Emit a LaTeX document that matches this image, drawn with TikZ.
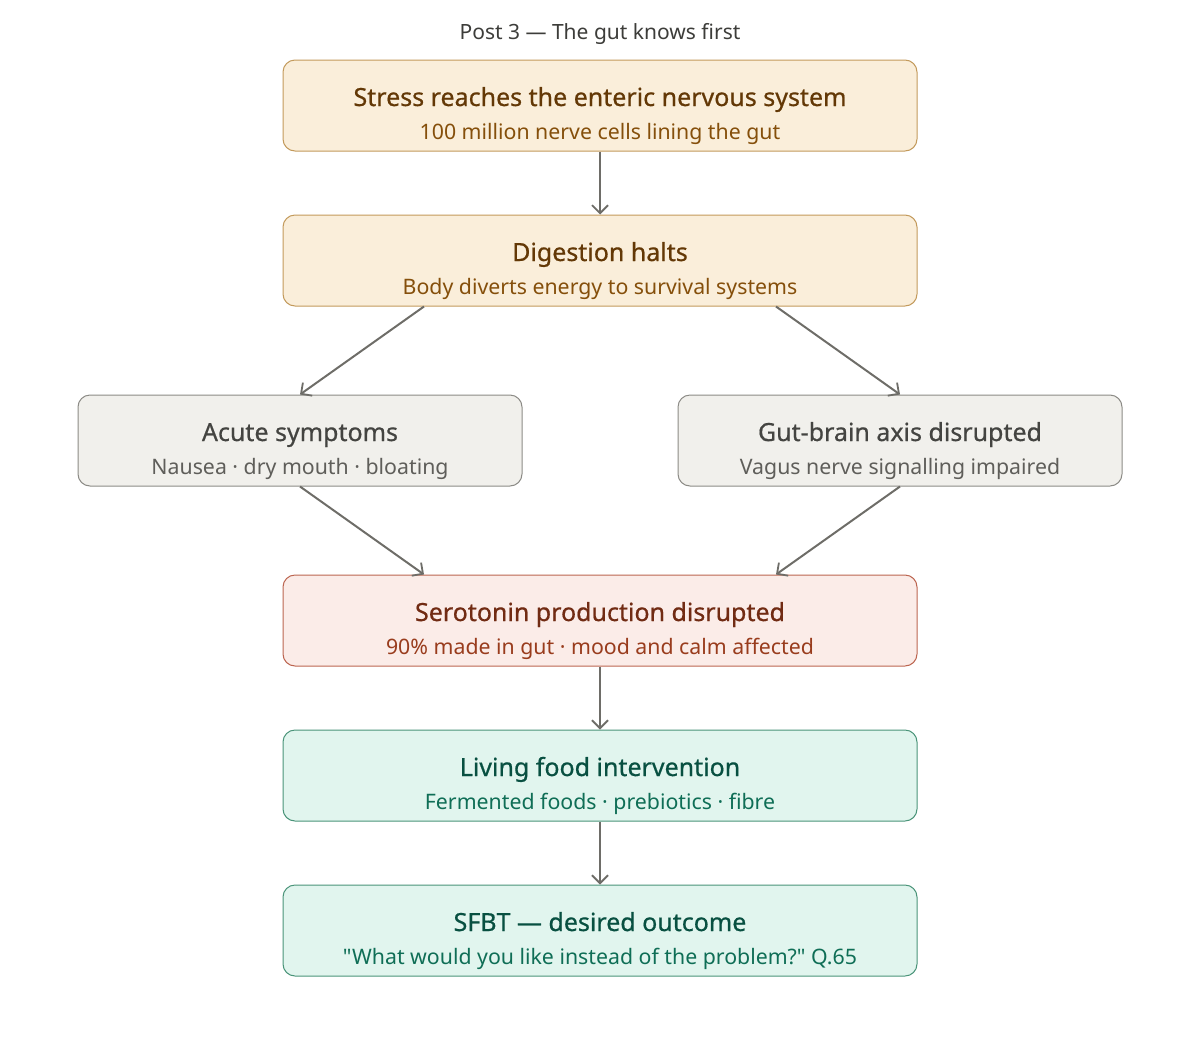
\documentclass[tikz,border=0pt]{standalone}
\usepackage{fontspec}
\setmainfont{Noto Sans}
\newfontfamily\medfont{Noto Sans}[FakeBold=0.6]
\newfontfamily\plainfont{Noto Sans}
\usepackage{tikz}
\usetikzlibrary{arrows.meta, positioning}
\definecolor{amberfill}{HTML}{FAEEDA}
\definecolor{amberline}{HTML}{C39A5C}
\definecolor{ambertitle}{HTML}{633806}
\definecolor{ambersub}{HTML}{854F0B}
\definecolor{grayfill}{HTML}{F1F0EC}
\definecolor{grayline}{HTML}{8C8B86}
\definecolor{graytitle}{HTML}{444441}
\definecolor{graysub}{HTML}{5F5E5A}
\definecolor{coralfill}{HTML}{FBECE8}
\definecolor{coralline}{HTML}{BC6550}
\definecolor{coraltitle}{HTML}{712B13}
\definecolor{coralsub}{HTML}{993C1D}
\definecolor{tealfill}{HTML}{E1F5EE}
\definecolor{tealline}{HTML}{4A9479}
\definecolor{tealtitle}{HTML}{085041}
\definecolor{tealsub}{HTML}{0F6E56}
\definecolor{arrowgray}{HTML}{6E6D68}
\definecolor{headgray}{HTML}{3D3D3A}
\newcommand{\subline}[1]{{\plainfont\fontsize{21.3}{24}\selectfont\color{subcol}#1}}
\tikzset{
  box/.style={rectangle, rounded corners=12pt, minimum height=91pt, line width=1pt, align=center, text height=67pt, text depth=0pt, font=\medfont\fontsize{25}{33}\selectfont},
  wide/.style={box, minimum width=634pt},
  narrow/.style={box, minimum width=444pt},
  amber/.style={fill=amberfill, draw=amberline, text=ambertitle, execute at begin node={\colorlet{subcol}{ambersub}}},
  stone/.style={fill=grayfill, draw=grayline, text=graytitle, execute at begin node={\colorlet{subcol}{graysub}}},
  coral/.style={fill=coralfill, draw=coralline, text=coraltitle, execute at begin node={\colorlet{subcol}{coralsub}}},
  teal/.style={fill=tealfill, draw=tealline, text=tealtitle, execute at begin node={\colorlet{subcol}{tealsub}}},
  arrow/.style={line width=2pt, draw=arrowgray, -{Straight Barb[length=8pt, width=16pt, line width=1.8pt]}}
}
\begin{document}
\begin{tikzpicture}[x=1pt, y=-1pt]
\useasboundingbox (0,0) rectangle (1200,1058);
\node (head) [font=\fontsize{21}{24}\selectfont, text=headgray] at (600,34) {Post 3 — The gut knows first};
\node (stress) [wide, amber] at (600,105.5) {Stress reaches the enteric nervous system\\\subline{100 million nerve cells lining the gut}};
\node (halt) [wide, amber] at (600,260.5) {Digestion halts\\\subline{Body diverts energy to survival systems}};
\node (acute) [narrow, stone] at (300,440.5) {Acute symptoms\\\subline{Nausea · dry mouth · bloating}};
\node (axis) [narrow, stone] at (900,440.5) {Gut-brain axis disrupted\\\subline{Vagus nerve signalling impaired}};
\node (sero) [wide, coral] at (600,620.5) {Serotonin production disrupted\\\subline{90\% made in gut · mood and calm affected}};
\node (food) [wide, teal] at (600,775.5) {Living food intervention\\\subline{Fermented foods · prebiotics · fibre}};
\node (sfbt) [wide, teal] at (600,930.5) {SFBT — desired outcome\\\subline{"What would you like instead of the problem?" Q.65}};
\draw [arrow] (stress) -- (halt);
\draw [arrow] ([xshift=-176pt]halt.south) -- (acute.north);
\draw [arrow] ([xshift=176pt]halt.south) -- (axis.north);
\draw [arrow] (acute.south) -- ([xshift=-176pt]sero.north);
\draw [arrow] (axis.south) -- ([xshift=176pt]sero.north);
\draw [arrow] (sero) -- (food);
\draw [arrow] (food) -- (sfbt);
\end{tikzpicture}
\end{document}
